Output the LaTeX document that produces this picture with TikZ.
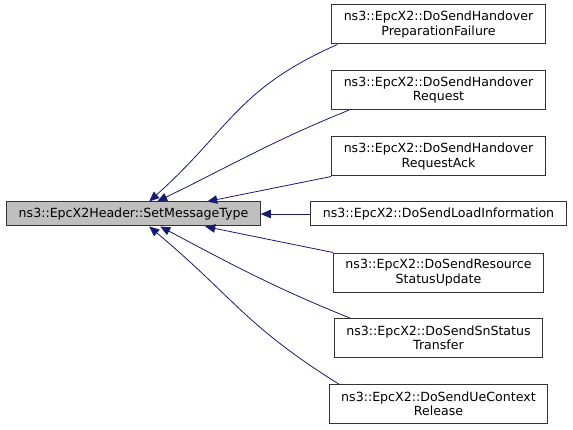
\documentclass[tikz,border=0pt]{standalone}
\usepackage{fontspec}
\setmainfont{DejaVu Sans}
\usetikzlibrary{arrows.meta}
\definecolor{edgeblue}{HTML}{191970}
\definecolor{mainfill}{HTML}{BFBFBF}

\begin{document}
\begin{tikzpicture}[x=1pt,y=1pt,
  every node/.style={font=\fontsize{12.6}{14.5}\selectfont},
  fnbox/.style={draw=black!80,line width=1pt,fill=white,align=center,
    inner xsep=12pt,inner ysep=3pt,minimum height=39pt},
  edge/.style={draw=edgeblue,line width=0.8pt,-{Triangle[length=10pt,width=8.5pt]}}]
  \useasboundingbox (0,0) rectangle (573,429);
  \node[fnbox,fill=mainfill,minimum height=24pt] (main) at (133.5,215) {ns3::EpcX2Header::SetMessageType};
  % callers, top to bottom
  \foreach \n/\y/\t in {prepfail/404.5/{ns3::EpcX2::DoSendHandover\\PreparationFailure},
                        horeq/339/{ns3::EpcX2::DoSendHandover\\Request},
                        hoack/272.5/{ns3::EpcX2::DoSendHandover\\RequestAck},
                        resstat/156.5/{ns3::EpcX2::DoSendResource\\StatusUpdate},
                        snstat/91/{ns3::EpcX2::DoSendSnStatus\\Transfer},
                        uectx/25/{ns3::EpcX2::DoSendUeContext\\Release}}{
    \node[fnbox] (\n) at (438.5,\y) {\t};
  }
  \node[fnbox,minimum height=24pt] (loadinfo) at (438.5,215) {ns3::EpcX2::DoSendLoadInformation};
  \draw[edge] ([xshift=6pt]prepfail.south west) to[out=204,in=42,looseness=1.15] ([xshift=143pt]main.north west);
  \draw[edge] ([xshift=18pt]horeq.south west) to[out=202,in=26] ([xshift=151pt]main.north west);
  \draw[edge] (hoack.south west) -- ([xshift=201pt]main.north west);
  \draw[edge] (loadinfo.west) -- (main.east);
  \draw[edge] (resstat.north west) -- ([xshift=199pt]main.south west);
  \draw[edge] ([xshift=16pt]snstat.north west) to[out=158,in=-28] ([xshift=154pt]main.south west);
  \draw[edge] ([xshift=10pt]uectx.north west) to[out=148,in=-40,looseness=1.15] ([xshift=143pt]main.south west);
\end{tikzpicture}
\end{document}
